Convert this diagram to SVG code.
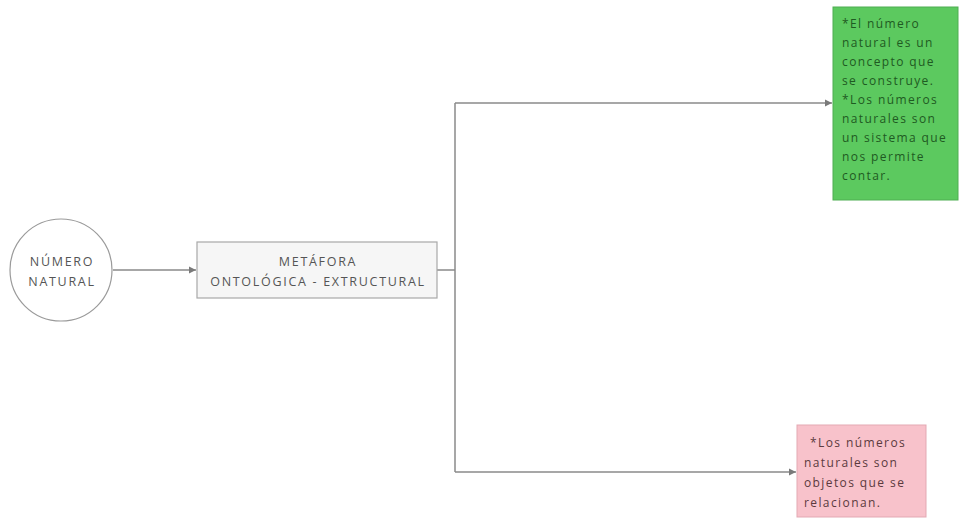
<svg xmlns="http://www.w3.org/2000/svg" width="959" height="518" viewBox="0 0 959 518">
<style>
.lbl{font-family:"Open Sans","DejaVu Sans",sans-serif;font-size:12.5px;fill:#555;text-anchor:middle;letter-spacing:1.7px}
.note{font-family:"Open Sans","DejaVu Sans",sans-serif;font-size:12px;letter-spacing:1.4px}
.g{fill:#1f5a22}
.p{fill:#5b3a3e}
.conn{fill:none;stroke:#8a8a8a;stroke-width:1.5}
</style>
<defs>
<marker id="arr" markerWidth="8" markerHeight="8" refX="7" refY="4" orient="auto" markerUnits="userSpaceOnUse">
<path d="M0,0.5 L7,4 L0,7.5 Z" fill="#7a7a7a"/>
</marker>
</defs>
<rect width="959" height="518" fill="#ffffff"/>
<g id="connectors">
<path class="conn" d="M113,270 L196,270" marker-end="url(#arr)"/>
<path class="conn" d="M437,270 L455,270"/>
<path class="conn" d="M455,103 L455,472"/>
<path class="conn" d="M455,103 L832,103" marker-end="url(#arr)"/>
<path class="conn" d="M455,472 L796,472" marker-end="url(#arr)"/>
</g>
<g id="numero-natural">
<circle cx="61" cy="270" r="51" fill="#ffffff" stroke="#9a9a9a" stroke-width="1.2"/>
<text class="lbl" x="62" y="266">NÚMERO</text>
<text class="lbl" x="62" y="286">NATURAL</text>
</g>
<g id="metafora">
<rect x="197" y="242" width="240" height="56" fill="#f6f6f6" stroke="#a8a8a8" stroke-width="1.2"/>
<text class="lbl" x="318" y="266">METÁFORA</text>
<text class="lbl" x="318" y="286">ONTOLÓGICA - EXTRUCTURAL</text>
</g>
<g id="nota-verde">
<rect x="833" y="7" width="125" height="193" fill="#5cc95f" stroke="#4fae52" stroke-width="1"/>
<text class="note g" x="842" y="28">*El número</text>
<text class="note g" x="842" y="47">natural es un</text>
<text class="note g" x="842" y="66">concepto que</text>
<text class="note g" x="842" y="85">se construye.</text>
<text class="note g" x="842" y="104">*Los números</text>
<text class="note g" x="842" y="123">naturales son</text>
<text class="note g" x="842" y="142">un sistema que</text>
<text class="note g" x="842" y="161">nos permite</text>
<text class="note g" x="842" y="180">contar.</text>
</g>
<g id="nota-rosa">
<rect x="797" y="425" width="129" height="92" fill="#f8c2cb" stroke="#e3a9b3" stroke-width="1"/>
<text class="note p" x="810" y="447">*Los números</text>
<text class="note p" x="804" y="467">naturales son</text>
<text class="note p" x="804" y="487">objetos que se</text>
<text class="note p" x="804" y="507">relacionan.</text>
</g>
</svg>
